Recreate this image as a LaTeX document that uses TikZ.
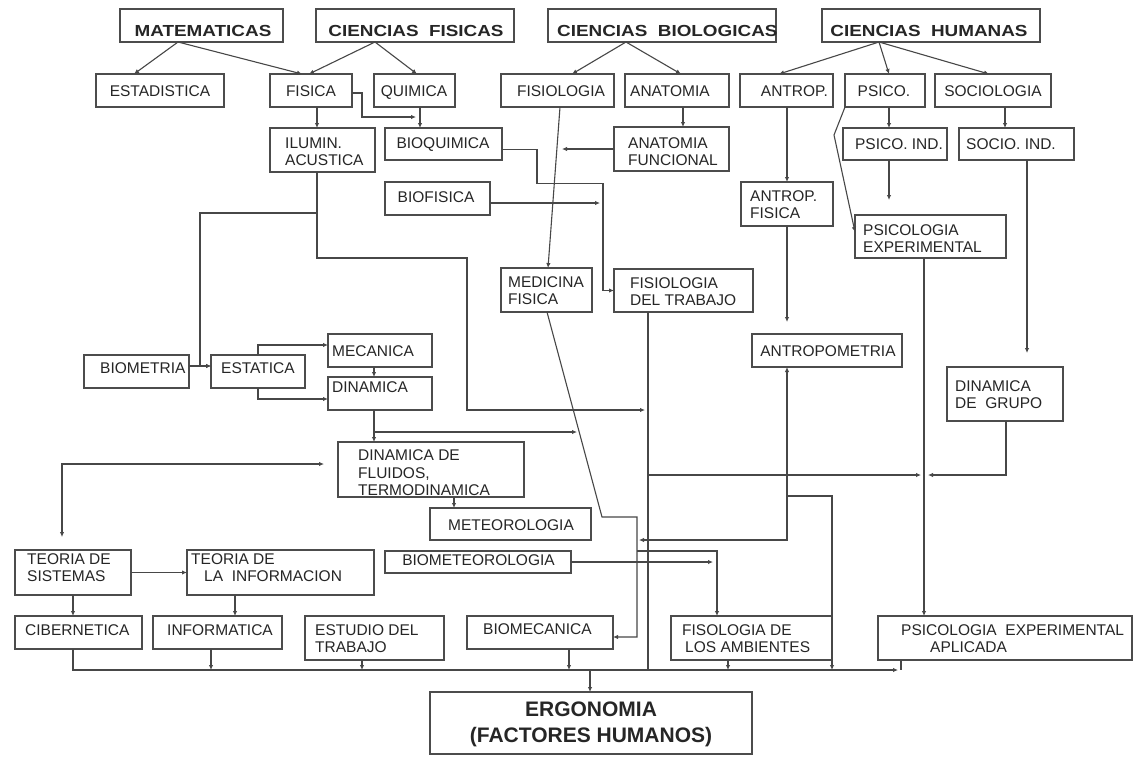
\documentclass[tikz,border=0pt]{standalone}
\usepackage{fontspec}
\setmainfont{Liberation Sans}
\newfontfamily\hfont[FakeStretch=1.18]{Liberation Sans Bold}
\usetikzlibrary{arrows.meta,calc}
\tikzset{
  >={Latex[length=5pt,width=4.5pt]},
  box/.style={draw=black!70,line width=1.4pt,inner sep=0pt,outer sep=0pt},
  con/.style={draw=black!72,line width=1.1pt},
  arr/.style={con,->},
  txt/.style={inner sep=0pt,align=left,text=black!85,font=\fontsize{15.5}{17}\selectfont},
  hd/.style={inner sep=0pt,text=black!85,font=\hfont\fontsize{16}{18}\selectfont},
  eg/.style={inner sep=0pt,align=center,text=black!85,font=\bfseries\fontsize{21}{26}\selectfont}
}
\newcommand\bx[5]{\node[box,minimum width={#4-#2},minimum height={#5-#3}] (#1) at ({(#2+#4)/2},{(#3+#5)/2}) {};}
\begin{document}
\begin{tikzpicture}[x=1pt,y=-1pt]
\useasboundingbox[fill=white] (0,0) rectangle (1140,756);
% boxes
\bx{mat}{120}{9}{283}{42}
\bx{cf}{316}{9}{514}{42}
\bx{cb}{548}{9}{776}{42}
\bx{ch}{822}{9}{1040}{42}
\bx{est}{96}{74}{224}{107}
\bx{fis}{270}{74}{352}{107}
\bx{qui}{374}{74}{455}{107}
\bx{fisio}{501}{74}{614}{107}
\bx{anat}{625}{74}{729}{107}
\bx{antrop}{740}{74}{833}{107}
\bx{psico}{845}{74}{925}{107}
\bx{socio}{935}{74}{1051}{107}
\bx{ilum}{270}{128}{375}{172}
\bx{bioq}{385}{128}{502}{160}
\bx{anafun}{614}{127}{729}{171}
\bx{psind}{843}{128}{947}{160}
\bx{socind}{959}{128}{1074}{160}
\bx{biof}{385}{182}{490}{215}
\bx{antfis}{741}{182}{833}{226}
\bx{psexp}{855}{215}{1006}{258}
\bx{med}{501}{268}{592}{312}
\bx{fdt}{614}{269}{753}{312}
\bx{antpom}{752}{334}{902}{367}
\bx{biom}{84}{355}{189}{388}
\bx{estat}{211}{355}{305}{388}
\bx{mec}{328}{334}{432}{367}
\bx{din}{328}{377}{432}{410}
\bx{dgrupo}{947}{367}{1063}{421}
\bx{dfl}{338}{442}{524}{497}
\bx{meteo}{430}{508}{591}{540}
\bx{biomet}{385}{551}{571}{573}
\bx{tsis}{15}{550}{131}{595}
\bx{tinf}{187}{550}{374}{595}
\bx{ciber}{15}{616}{142}{649}
\bx{infor}{153}{616}{282}{649}
\bx{estud}{305}{616}{444}{660}
\bx{biomec}{467}{616}{613}{649}
\bx{famb}{671}{616}{832}{660}
\bx{psapl}{878}{616}{1132}{660}
\bx{ergo}{430}{692}{752}{754}
% texts
\node[hd] (tmat) at (203,30.5) {MATEMATICAS};
\node[hd] (tcf) at (416,30.5) {CIENCIAS\ \ FISICAS};
\node[hd,anchor=west] (tcb) at (557,30.5) {CIENCIAS\ \ BIOLOGICAS};
\node[hd] (tch) at (929,30.5) {CIENCIAS\ \ HUMANAS};
\node[txt] (test) at (160,91) {ESTADISTICA};
\node[txt] (tfis) at (311,91) {FISICA};
\node[txt] (tqui) at (414,92.5) {QUIMICA};
\node[txt] (tfisio) at (561,91) {FISIOLOGIA};
\node[txt,anchor=west] (tanat) at (630,91) {ANATOMIA};
\node[txt,anchor=east] (tantrop) at (828,91) {ANTROP.};
\node[txt] (tpsico) at (884,91) {PSICO.};
\node[txt] (tsocio) at (993,91) {SOCIOLOGIA};
\node[txt,anchor=west] (tilum) at (285,151.5) {ILUMIN.\\ACUSTICA};
\node[txt] (tbioq) at (443,144.5) {BIOQUIMICA};
\node[txt,anchor=west] (tanafun) at (628,151.5) {ANATOMIA\\FUNCIONAL};
\node[txt] (tpsind) at (899,144) {PSICO. IND.};
\node[txt,anchor=west] (tsocind) at (966,144) {SOCIO. IND.};
\node[txt] (tbiof) at (436,197) {BIOFISICA};
\node[txt,anchor=west] (tantfis) at (750,205) {ANTROP.\\FISICA};
\node[txt,anchor=west] (tpsexp) at (863,238.5) {PSICOLOGIA\\EXPERIMENTAL};
\node[txt,anchor=west] (tmed) at (508,290.5) {MEDICINA\\FISICA};
\node[txt,anchor=west] (tfdt) at (630,292) {FISIOLOGIA\\DEL TRABAJO};
\node[txt] (tantpom) at (828,351) {ANTROPOMETRIA};
\node[txt,anchor=west] (tbiom) at (100,368) {BIOMETRIA};
\node[txt,anchor=west] (testat) at (221,368) {ESTATICA};
\node[txt,anchor=west] (tmec) at (332,351) {MECANICA};
\node[txt,anchor=west] (tdin) at (332,387) {DINAMICA};
\node[txt,anchor=west] (tdgrupo) at (955,395) {DINAMICA\\DE\ \ GRUPO};
\node[txt,anchor=west,font=\fontsize{15.5}{17.5}\selectfont] (tdfl) at (358,473) {DINAMICA DE\\FLUIDOS,\\TERMODINAMICA};
\node[txt] (tmeteo) at (511,525) {METEOROLOGIA};
\node[txt] (tbiomet) at (478.5,560) {BIOMETEOROLOGIA};
\node[txt,anchor=west] (ttsis) at (27,568) {TEORIA DE\\SISTEMAS};
\node[txt,anchor=west] (ttinf) at (191,568) {TEORIA DE\\\hspace*{13pt}LA\ \ INFORMACION};
\node[txt,anchor=west] (tciber) at (25,630) {CIBERNETICA};
\node[txt,anchor=west] (tinfor) at (167,630) {INFORMATICA};
\node[txt,anchor=west] (testud) at (315,639) {ESTUDIO DEL\\TRABAJO};
\node[txt,anchor=west] (tbiomec) at (483,629) {BIOMECANICA};
\node[txt,anchor=west] (tfamb) at (682,639) {FISOLOGIA DE\\\hspace*{3pt}LOS AMBIENTES};
\node[txt,anchor=west] (tpsapl) at (901,639) {PSICOLOGIA\ \ EXPERIMENTAL\\\hspace*{29pt}APLICADA};
\node[eg] (tergo) at (591,724) {ERGONOMIA\\(FACTORES HUMANOS)};
% connectors
\draw[arr] ([xshift=58]mat.south west) -- ([xshift=38]est.north west);
\draw[arr] ([xshift=58]mat.south west) -- ([xshift=32]fis.north west);
\draw[arr] ([xshift=59]cf.south west) -- ([xshift=39]fis.north west);
\draw[arr] ([xshift=59]cf.south west) -- ([xshift=43]qui.north west);
\draw[arr] ([xshift=78]cb.south west) -- ([xshift=71]fisio.north west);
\draw[arr] ([xshift=78]cb.south west) -- ([xshift=56]anat.north west);
\draw[arr] ([xshift=57]ch.south west) -- ([xshift=39]antrop.north west);
\draw[arr] ([xshift=57]ch.south west) -- ([xshift=44]psico.north west);
\draw[arr] ([xshift=57]ch.south west) -- ([xshift=54]socio.north west);
\draw[arr] ([xshift=47]fis.south west) -- ([xshift=47]ilum.north west);
\draw[arr] ([xshift=46]qui.south west) -- ([xshift=35]bioq.north west);
\draw[arr] ([yshift=-19]fis.north east) -- ++(10,0) |- ([xshift=31,yshift=11]bioq.north west);
\draw[arr] ([xshift=58]anat.south west) -- ([xshift=69]anafun.north west);
\draw[arr] (anafun.west) -- ++(-52,0);
\draw[arr] ([xshift=47]antrop.south west) -- ([xshift=46]antfis.north west);
\draw[arr] ([xshift=44]psico.south west) -- ([xshift=46]psind.north west);
\draw[arr] ([xshift=70]socio.south west) -- ([xshift=46]socind.north west);
\draw[arr] (psico.south west) -- ++(-11,28) -- ([yshift=-17]psexp.north west);
\draw[arr] ([xshift=46]psind.south west) -- ([xshift=34,yshift=15]psexp.north west);
\draw[arr] ([xshift=68]socind.south west) -- ([xshift=80,yshift=14]dgrupo.north west);
\draw[arr] ([xshift=46]antfis.south west) -- ([xshift=35,yshift=12]antpom.north west);
\draw[arr] ([xshift=59]fisio.south west) -- ([xshift=47]med.north west);
\draw[arr] ([xshift=47]ilum.south west) -- ++(0,86) -- ++(150,0) -- ++(0,152) -- ++(178,0);
\draw[arr] ([xshift=47,yshift=-41]ilum.south west) -- ++(-117,0) |- ([yshift=5.5]estat.west);
\draw[arr] ([yshift=5.5]biom.east) -- ([yshift=5.5]estat.west);
\draw[arr] ([xshift=47]estat.north west) |- ([yshift=5.5]mec.west);
\draw[arr] ([xshift=47]estat.south west) |- ([yshift=-5.5]din.west);
\draw[arr] ([xshift=46]mec.south west) -- ([xshift=46]din.north west);
\draw[arr] ([xshift=46]din.south west) -- ([xshift=36]dfl.north west);
\draw[arr] ([xshift=46,yshift=-22]din.south west) -- ++(203,0);
\draw[con,<->] ([xshift=47,yshift=13]tsis.north west) |- ([xshift=-14,yshift=5.5]dfl.west);
\draw[arr] (tsis.east) -- (tinf.west);
\draw[arr] ([xshift=58]tsis.south west) -- ([xshift=58]ciber.north west);
\draw[arr] ([xshift=48]tinf.south west) -- ([xshift=82]infor.north west);
\draw[arr] ([xshift=116]dfl.south west) -- ([xshift=24]meteo.north west);
\draw[arr] ([xshift=58]ciber.south west) |- ([xshift=20,yshift=-10]psapl.south west);
\draw[con] ([xshift=23]psapl.south west) -- ++(0,10);
\draw[arr] ([xshift=58]infor.south west) -- ++(0,21);
\draw[arr] ([xshift=57]estud.south west) -- ++(0,10);
\draw[arr] ([xshift=102]biomec.south west) -- ++(0,21);
\draw[arr] ([xshift=57]famb.south west) -- ++(0,10);
\draw[arr] ([xshift=160,yshift=22]ergo.north west) -- ([xshift=160]ergo.north west);
\draw[con] ([xshift=34]fdt.south west) -- ++(0,358);
\draw[arr] ([yshift=-5.5]bioq.east) -- ++(35,0) -- ++(0,34) -- ++(66,0) |- (fdt.west);
\draw[arr] ([yshift=-4.5]biof.east) -- ++(110,0);
\draw[arr] ([xshift=46]med.south west) -- ++(55,205) -- ++(35,0) |- ([yshift=-4.5]biomec.east);
\draw[arr] ([xshift=136,yshift=-239]med.south west) -| ([xshift=46]famb.north west);
\draw[arr] (biomet.east) -- ++(142,0);
\draw[con,<->] ([xshift=35]antpom.south west) -- ++(0,173) -- ++(-148,0);
\draw[arr] ([xshift=35,yshift=-129]antpom.south west) -- ++(45,0) -- ++(0,174);
\draw[arr] ([xshift=69]psexp.south west) -- ([xshift=46]psapl.north west);
\draw[arr] ([xshift=59]dgrupo.south west) -- ++(0,54) -- ++(-78,0);
\draw[arr] ([xshift=34,yshift=-163]fdt.south west) -- ++(273,0);
\end{tikzpicture}
\end{document}
